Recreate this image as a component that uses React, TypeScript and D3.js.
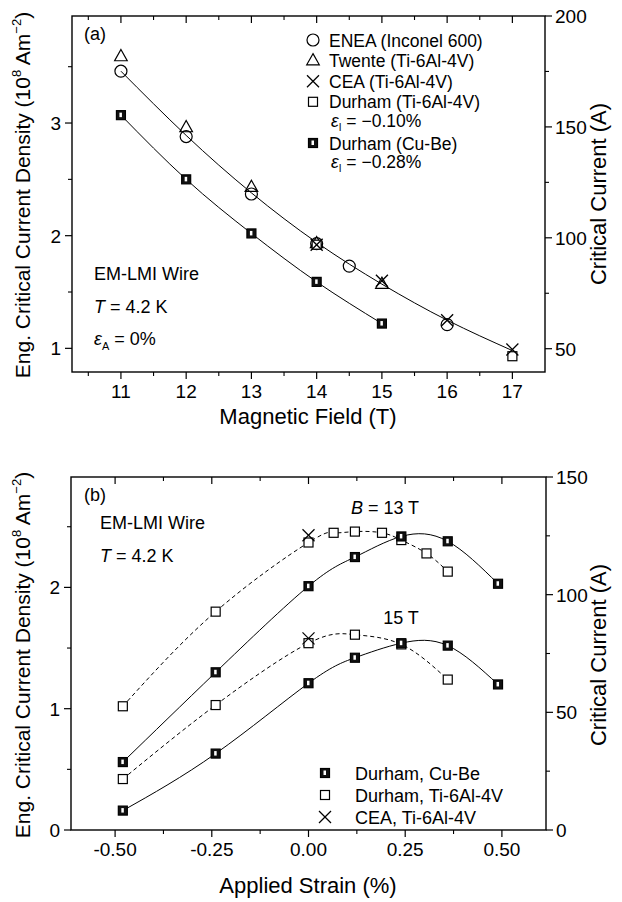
import React from 'react';
import * as d3 from 'd3';

// ---------- Panel (a) data : Jc vs magnetic field ----------
const fieldENEA = [11, 12, 13, 14, 14.5, 16];
const jcENEA = [3.46, 2.88, 2.37, 1.93, 1.73, 1.21];
const fieldTwente = [11, 12, 13, 14, 15];
const jcTwente = [3.59, 2.96, 2.43, 1.93, 1.57];
const fieldCEA = [14, 15, 16, 17];
const jcCEA = [1.92, 1.6, 1.25, 0.99];
const fieldDurTi = [14, 17];
const jcDurTi = [1.92, 0.93];
const fieldDurCuBe = [11, 12, 13, 14, 15];
const jcDurCuBe = [3.07, 2.5, 2.02, 1.59, 1.22];
const fitFieldUpper = [11, 12, 13, 14, 15, 16, 17];
const fitUpper = [3.46, 2.89, 2.38, 1.94, 1.57, 1.25, 0.98];
const fitFieldLower = [11, 12, 13, 14, 15];
const fitLower = [3.07, 2.5, 2.02, 1.59, 1.22];

const fieldTicks = [11, 12, 13, 14, 15, 16, 17];
const fieldMinor = [10.5, 11.5, 12.5, 13.5, 14.5, 15.5, 16.5];
const jcTicksA = [1, 2, 3];
const jcMinorA = [1.5, 2.5, 3.5];
const icTicksA = [50, 100, 150, 200];
const icMinorA = [75, 125, 175];

const legendA = [
  'ENEA (Inconel 600)',
  'Twente (Ti-6Al-4V)',
  'CEA (Ti-6Al-4V)',
  'Durham (Ti-6Al-4V)',
  '= \u22120.10%',
  'Durham (Cu-Be)',
  '= \u22120.28%',
];

// ---------- Panel (b) data : Jc vs applied strain ----------
const strainCuBe = [-0.48, -0.24, 0.0, 0.12, 0.24, 0.36, 0.49];
const cuBe13 = [0.56, 1.3, 2.01, 2.25, 2.42, 2.38, 2.03];
const cuBe15 = [0.16, 0.63, 1.21, 1.42, 1.54, 1.52, 1.2];
const strainTi13 = [-0.48, -0.24, 0.0, 0.065, 0.12, 0.19, 0.24, 0.305, 0.36];
const ti13 = [1.02, 1.8, 2.37, 2.45, 2.46, 2.45, 2.39, 2.28, 2.13];
const strainTi15 = [-0.48, -0.24, 0.0, 0.12, 0.24, 0.36];
const ti15 = [0.42, 1.03, 1.54, 1.61, 1.53, 1.24];
const strainCEA = [0.0, 0.0];
const ceaB = [2.43, 1.58];

const strainTicks = [-0.5, -0.25, 0, 0.25, 0.5];
const strainMinor = [-0.375, -0.125, 0.125, 0.375];
const jcTicksB = [0, 1, 2];
const jcMinorB = [0.5, 1.5, 2.5];
const icTicksB = [0, 50, 100, 150];
const icMinorB = [25, 75, 125];

const legendB = ['Durham, Cu-Be', 'Durham, Ti-6Al-4V', 'CEA, Ti-6Al-4V'];

const FONT = "'Liberation Sans', Arial, Helvetica, sans-serif";

type MType = 'circle' | 'tri' | 'cross' | 'osq' | 'hsq';

function Marker({ t, x, y }: { t: MType; x: number; y: number }) {
  const sw = 1.2;
  if (t === 'circle') return <circle cx={x} cy={y} r={6} fill="none" stroke="#000" strokeWidth={sw} />;
  if (t === 'tri')
    return (
      <polygon
        points={`${x},${y - 7} ${x + 6.3},${y + 4.2} ${x - 6.3},${y + 4.2}`}
        fill="none"
        stroke="#000"
        strokeWidth={sw}
      />
    );
  if (t === 'cross')
    return (
      <g stroke="#000" strokeWidth={1.3}>
        <line x1={x - 6} y1={y - 6} x2={x + 6} y2={y + 6} />
        <line x1={x - 6} y1={y + 6} x2={x + 6} y2={y - 6} />
      </g>
    );
  if (t === 'osq') return <rect x={x - 4.5} y={y - 4.5} width={9} height={9} fill="#fff" stroke="#000" strokeWidth={sw} />;
  return (
    <g>
      <rect x={x - 4.5} y={y - 4.5} width={9} height={9} fill="#111" stroke="#000" strokeWidth={sw} />
      <rect x={x - 1.5} y={y - 2.5} width={2.5} height={4.5} fill="#fff" />
    </g>
  );
}

interface AxesProps {
  x: d3.ScaleLinear<number, number>;
  yl: d3.ScaleLinear<number, number>;
  yr: d3.ScaleLinear<number, number>;
  xt: number[];
  xm: number[];
  ylt: number[];
  ylm: number[];
  yrt: number[];
  yrm: number[];
  fx: (v: number) => string;
}

function Axes({ x, yl, yr, xt, xm, ylt, ylm, yrt, yrm, fx }: AxesProps) {
  const [x0, x1] = x.range();
  const [y1, y0] = yl.range();
  const maj = 7;
  const min = 4;
  return (
    <g fontFamily={FONT} fill="#000">
      <rect x={x0} y={y0} width={x1 - x0} height={y1 - y0} fill="none" stroke="#000" strokeWidth={1.4} />
      {xt.map((v) => (
        <g key={'xt' + v}>
          <line x1={x(v)} x2={x(v)} y1={y1} y2={y1 + maj} stroke="#000" strokeWidth={1.2} />
          <line x1={x(v)} x2={x(v)} y1={y0} y2={y0 + maj} stroke="#000" strokeWidth={1.2} />
          <text x={x(v)} y={y1 + 26} fontSize={19} textAnchor="middle">
            {fx(v)}
          </text>
        </g>
      ))}
      {xm.map((v) => (
        <g key={'xm' + v}>
          <line x1={x(v)} x2={x(v)} y1={y1} y2={y1 + min} stroke="#000" strokeWidth={1.1} />
          <line x1={x(v)} x2={x(v)} y1={y0} y2={y0 + min} stroke="#000" strokeWidth={1.1} />
        </g>
      ))}
      {ylt.map((v) => (
        <g key={'yl' + v}>
          <line x1={x0 - maj} x2={x0} y1={yl(v)} y2={yl(v)} stroke="#000" strokeWidth={1.2} />
          <text x={x0 - 11} y={yl(v) + 7} fontSize={19} textAnchor="end">
            {v}
          </text>
        </g>
      ))}
      {ylm.map((v) => (
        <line key={'ylm' + v} x1={x0 - min} x2={x0} y1={yl(v)} y2={yl(v)} stroke="#000" strokeWidth={1.1} />
      ))}
      {yrt.map((v) => (
        <g key={'yr' + v}>
          <line x1={x1} x2={x1 + maj} y1={yr(v)} y2={yr(v)} stroke="#000" strokeWidth={1.2} />
          <text x={x1 + 10} y={yr(v) + 7} fontSize={19} textAnchor="start">
            {v}
          </text>
        </g>
      ))}
      {yrm.map((v) => (
        <line key={'yrm' + v} x1={x1} x2={x1 + min} y1={yr(v)} y2={yr(v)} stroke="#000" strokeWidth={1.1} />
      ))}
    </g>
  );
}

function YTitleLeft({ cx, cy }: { cx: number; cy: number }) {
  return (
    <text
      transform={`translate(${cx},${cy}) rotate(-90)`}
      textAnchor="middle"
      fontFamily={FONT}
      fontSize={21}
      fill="#000"
    >
      Eng. Critical Current Density (10
      <tspan fontSize={13} dy={-9}>8</tspan>
      <tspan dy={9}> Am</tspan>
      <tspan fontSize={13} dy={-9}>{'\u22122'}</tspan>
      <tspan dy={9}>)</tspan>
    </text>
  );
}

function YTitleRight({ cx, cy }: { cx: number; cy: number }) {
  return (
    <text
      transform={`translate(${cx},${cy}) rotate(-90)`}
      textAnchor="middle"
      fontFamily={FONT}
      fontSize={22}
      fill="#000"
    >
      Critical Current (A)
    </text>
  );
}

export default function App() {
  // panel (a) scales
  const xA = d3.scaleLinear().domain([10.25, 17.5]).range([72, 545]);
  const yA = d3.scaleLinear().domain([0.79, 3.95]).range([372, 16]);
  const yAr = d3.scaleLinear().domain([39.5, 200]).range([372, 16]);
  // panel (b) scales
  const xB = d3.scaleLinear().domain([-0.614, 0.614]).range([71, 546]);
  const yB = d3.scaleLinear().domain([0, 2.91]).range([830, 477]);
  const yBr = d3.scaleLinear().domain([0, 150]).range([830, 477]);

  const lineA = (xs: number[], ys: number[]) =>
    d3
      .line<number>()
      .x((_, i) => xA(xs[i]))
      .y((d) => yA(d))
      .curve(d3.curveNatural)(ys) || '';
  const lineB = (xs: number[], ys: number[]) =>
    d3
      .line<number>()
      .x((_, i) => xB(xs[i]))
      .y((d) => yB(d))
      .curve(d3.curveNatural)(ys) || '';

  const legASyms: (MType | null)[] = ['circle', 'tri', 'cross', 'osq', null, 'hsq', null];
  const legBSyms: MType[] = ['hsq', 'osq', 'cross'];
  const legAx = 313;
  const legAy0 = 40;
  const legAdy = 20.6;

  return (
    <svg
      width={622}
      height={902}
      viewBox="0 0 622 902"
      style={{ position: 'absolute', left: 0, top: 0, background: '#fff' }}
    >
      <rect x={0} y={0} width={622} height={902} fill="#fff" />

      {/* ---------------- Panel (a) ---------------- */}
      <g>
        <path d={lineA(fitFieldUpper, fitUpper)} fill="none" stroke="#000" strokeWidth={1} />
        <path d={lineA(fitFieldLower, fitLower)} fill="none" stroke="#000" strokeWidth={1} />
        {fieldENEA.map((f, i) => (
          <Marker key={'en' + i} t="circle" x={xA(f)} y={yA(jcENEA[i])} />
        ))}
        {fieldTwente.map((f, i) => (
          <Marker key={'tw' + i} t="tri" x={xA(f)} y={yA(jcTwente[i])} />
        ))}
        {fieldDurTi.map((f, i) => (
          <Marker key={'dt' + i} t="osq" x={xA(f)} y={yA(jcDurTi[i])} />
        ))}
        {fieldCEA.map((f, i) => (
          <Marker key={'ce' + i} t="cross" x={xA(f)} y={yA(jcCEA[i])} />
        ))}
        {fieldDurCuBe.map((f, i) => (
          <Marker key={'dc' + i} t="hsq" x={xA(f)} y={yA(jcDurCuBe[i])} />
        ))}
        <Axes
          x={xA}
          yl={yA}
          yr={yAr}
          xt={fieldTicks}
          xm={fieldMinor}
          ylt={jcTicksA}
          ylm={jcMinorA}
          yrt={icTicksA}
          yrm={icMinorA}
          fx={(v) => String(v)}
        />
        <g fontFamily={FONT} fontSize={17.5} fill="#000">
          <text x={84} y={40} fontSize={18}>(a)</text>
          {legendA.map((s, i) => {
            const cy = legAy0 + i * legAdy;
            const sym = legASyms[i];
            const isEps = sym === null;
            return (
              <g key={'la' + i}>
                {sym && <Marker t={sym} x={legAx} y={cy} />}
                {isEps ? (
                  <text x={legAx + 18} y={cy + 4.5}>
                    <tspan fontStyle="italic">{'\u03b5'}</tspan>
                    <tspan fontSize={10} dy={4}>I</tspan>
                    <tspan dy={-4}> {s}</tspan>
                  </text>
                ) : (
                  <text x={legAx + 16} y={cy + 6.5}>{s}</text>
                )}
              </g>
            );
          })}
          <text x={94} y={280} fontSize={18}>EM-LMI Wire</text>
          <text x={94} y={313} fontSize={18}>
            <tspan fontStyle="italic">T</tspan> = 4.2 K
          </text>
          <text x={94} y={345} fontSize={18}>
            <tspan fontStyle="italic">{'\u03b5'}</tspan>
            <tspan fontSize={11} dy={5}>A</tspan>
            <tspan dy={-5}> = 0%</tspan>
          </text>
        </g>
        <text x={308} y={424} textAnchor="middle" fontFamily={FONT} fontSize={22} fill="#000">
          Magnetic Field (T)
        </text>
        <YTitleLeft cx={30} cy={195} />
        <YTitleRight cx={606} cy={194} />
      </g>

      {/* ---------------- Panel (b) ---------------- */}
      <g>
        <path d={lineB(strainTi13, ti13)} fill="none" stroke="#000" strokeWidth={1} strokeDasharray="4,3" />
        <path d={lineB(strainTi15, ti15)} fill="none" stroke="#000" strokeWidth={1} strokeDasharray="4,3" />
        <path d={lineB(strainCuBe, cuBe13)} fill="none" stroke="#000" strokeWidth={1} />
        <path d={lineB(strainCuBe, cuBe15)} fill="none" stroke="#000" strokeWidth={1} />
        {strainTi13.map((s, i) => (
          <Marker key={'t13' + i} t="osq" x={xB(s)} y={yB(ti13[i])} />
        ))}
        {strainTi15.map((s, i) => (
          <Marker key={'t15' + i} t="osq" x={xB(s)} y={yB(ti15[i])} />
        ))}
        {strainCuBe.map((s, i) => (
          <Marker key={'c13' + i} t="hsq" x={xB(s)} y={yB(cuBe13[i])} />
        ))}
        {strainCuBe.map((s, i) => (
          <Marker key={'c15' + i} t="hsq" x={xB(s)} y={yB(cuBe15[i])} />
        ))}
        {strainCEA.map((s, i) => (
          <Marker key={'cea' + i} t="cross" x={xB(s)} y={yB(ceaB[i])} />
        ))}
        <Axes
          x={xB}
          yl={yB}
          yr={yBr}
          xt={strainTicks}
          xm={strainMinor}
          ylt={jcTicksB}
          ylm={jcMinorB}
          yrt={icTicksB}
          yrm={icMinorB}
          fx={(v) => v.toFixed(2)}
        />
        <g fontFamily={FONT} fontSize={18} fill="#000">
          <text x={84} y={501}>(b)</text>
          <text x={100} y={529}>EM-LMI Wire</text>
          <text x={100} y={562}>
            <tspan fontStyle="italic">T</tspan> = 4.2 K
          </text>
          <text x={385} y={514} textAnchor="middle">
            <tspan fontStyle="italic">B</tspan> = 13 T
          </text>
          <text x={401} y={624} textAnchor="middle">15 T</text>
          {legendB.map((s, i) => {
            const cy = 773 + i * 22;
            return (
              <g key={'lb' + i}>
                <Marker t={legBSyms[i]} x={325} y={cy} />
                <text x={355} y={cy + 6.5}>{s}</text>
              </g>
            );
          })}
        </g>
        <text x={308} y={893} textAnchor="middle" fontFamily={FONT} fontSize={22} fill="#000">
          Applied Strain (%)
        </text>
        <YTitleLeft cx={30} cy={655} />
        <YTitleRight cx={606} cy={655} />
      </g>
    </svg>
  );
}
